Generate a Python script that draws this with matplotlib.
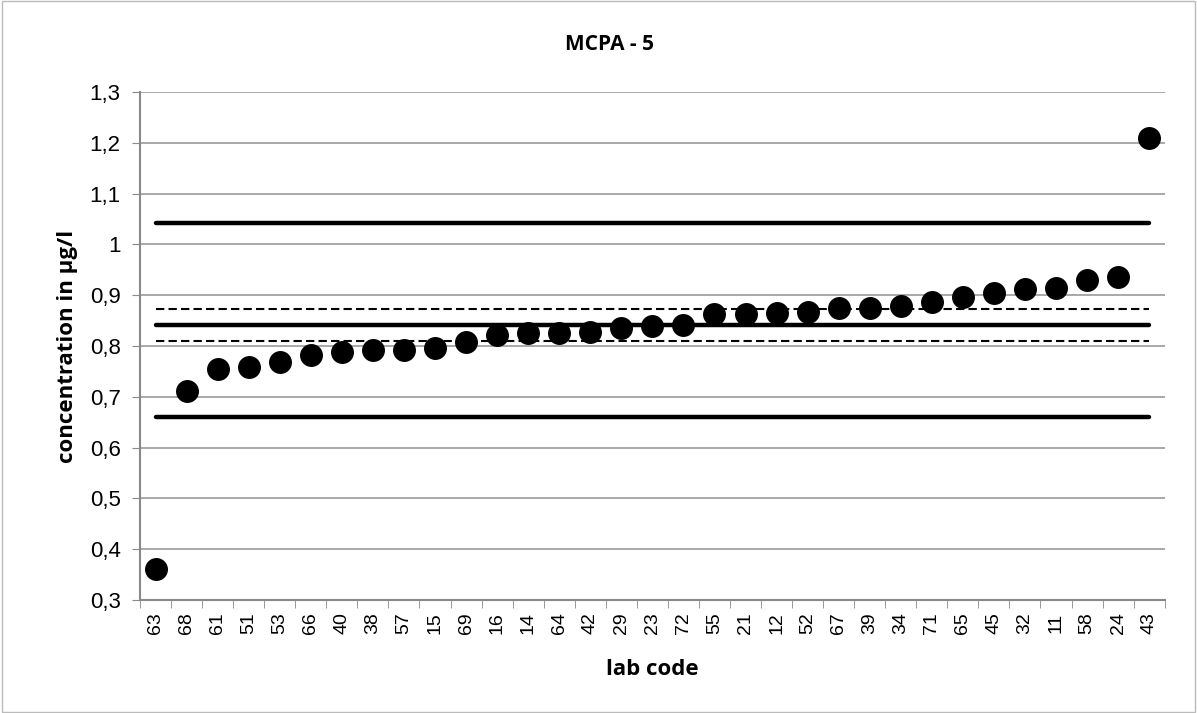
import matplotlib.pyplot as plt
import numpy as np

labs = ['63', '68', '61', '51', '53', '66', '40', '38', '57', '15', '69', '16', '14', '64',
        '42', '29', '23', '72', '55', '21', '12', '52', '67', '39', '34', '71', '65', '45',
        '32', '11', '58', '24', '43']
values = [0.361, 0.712, 0.755, 0.758, 0.769, 0.783, 0.789, 0.792, 0.793, 0.797, 0.807,
          0.822, 0.825, 0.825, 0.828, 0.835, 0.840, 0.842, 0.863, 0.863, 0.865, 0.866,
          0.874, 0.875, 0.878, 0.886, 0.897, 0.905, 0.913, 0.915, 0.930, 0.936, 1.210]
assigned = 0.841
tol_low, tol_high = 0.661, 1.043
unc_low, unc_high = 0.809, 0.873

fig = plt.figure(figsize=(11.97, 7.13), dpi=100)
ax = fig.add_axes([0.117, 0.1585, 0.856, 0.7125])

x = np.arange(len(labs))
ends = [x[0], x[-1]]
ax.plot(ends, [tol_high] * 2, color='black', lw=3.2, solid_capstyle='round', zorder=2)
ax.plot(ends, [tol_low] * 2, color='black', lw=3.2, solid_capstyle='round', zorder=2)
ax.plot(ends, [assigned] * 2, color='black', lw=3.2, solid_capstyle='round', zorder=2)
ax.plot(ends, [unc_high] * 2, color='black', lw=1.5, ls=(0, (4, 2)), zorder=2)
ax.plot(ends, [unc_low] * 2, color='black', lw=1.5, ls=(0, (4, 2)), zorder=2)
ax.plot(x, values, 'o', color='black', markersize=15.5, zorder=3)

ax.set_xlim(-0.5, len(labs) - 0.5)
ax.set_ylim(0.3, 1.3)
yt = np.round(np.arange(0.3, 1.31, 0.1), 1)
ax.set_yticks(yt)
ax.set_yticklabels([('%g' % v).replace('.', ',') for v in yt], fontsize=16,
                   family='Liberation Sans')
ax.set_xticks(x)
ax.set_xticklabels(labs, rotation=90, fontsize=14, family='Liberation Sans')
ax.set_xticks(np.arange(-0.5, len(labs), 1), minor=True)
ax.tick_params(axis='x', which='major', length=0, pad=9)
ax.tick_params(axis='x', which='minor', length=6, color='#888888', direction='out')
ax.tick_params(axis='y', length=6, color='#888888', direction='out', pad=8)

ax.grid(axis='y', color='#999999', lw=1.2, zorder=0)
ax.set_axisbelow(True)
for s in ['top', 'right']:
    ax.spines[s].set_visible(False)
for s in ['left', 'bottom']:
    ax.spines[s].set_color('#888888')
    ax.spines[s].set_linewidth(1.5)

fig.text(0.509, 0.937, 'MCPA - 5', fontsize=15, fontweight='bold', family='Open Sans',
         ha='center', va='center')
ax.set_xlabel('lab code', fontsize=16, fontweight='bold', family='Open Sans', labelpad=18)
ax.set_ylabel('concentration in µg/l', fontsize=16, fontweight='bold', family='Open Sans',
              labelpad=8)

fig.patches.append(plt.Rectangle((0.002, 0.002), 0.996, 0.996, transform=fig.transFigure,
                                 fill=False, edgecolor='#bbbbbb', lw=1))

fig.savefig('out.png', dpi=100)
